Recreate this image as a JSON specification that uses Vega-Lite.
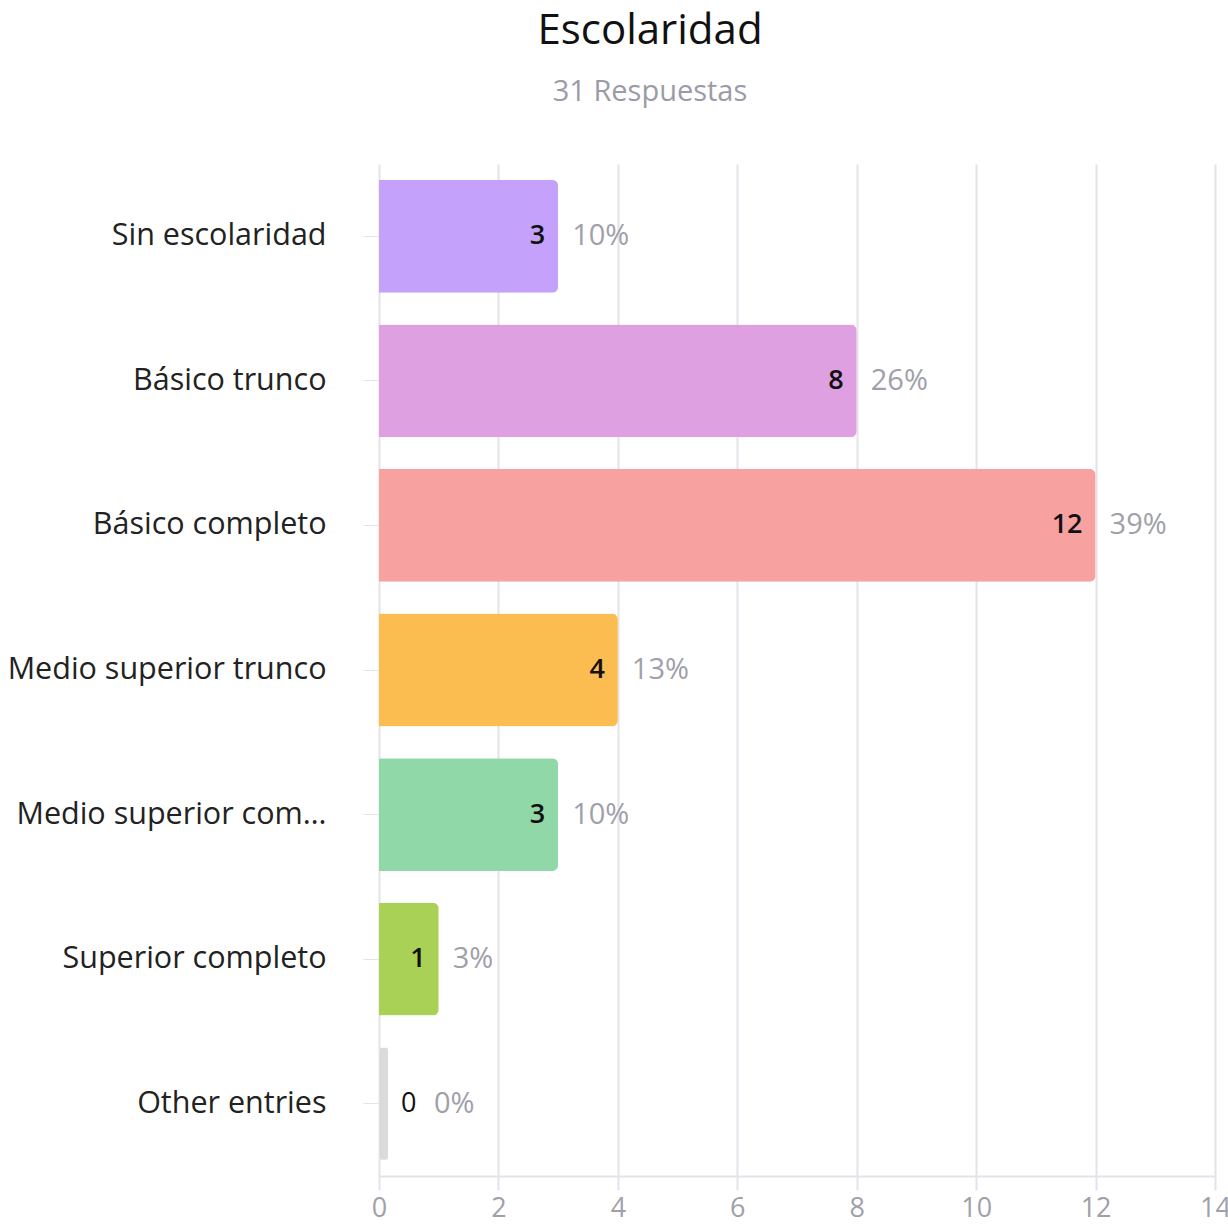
{
  "$schema": "https://vega.github.io/schema/vega-lite/v6.json",
  "width": 836,
  "height": 1012,
  "autosize": "none",
  "padding": {"left": 379, "top": 164, "right": 13, "bottom": 48},
  "background": "white",
  "title": {
    "text": "Escolaridad",
    "subtitle": "31 Respuestas",
    "anchor": "middle",
    "frame": "group",
    "dx": -147,
    "offset": 56,
    "font": "Open Sans",
    "fontSize": 42,
    "fontWeight": "normal",
    "color": "#111111",
    "subtitleFont": "Open Sans",
    "subtitleFontSize": 29,
    "subtitleColor": "#9b9ba8",
    "subtitlePadding": 25
  },
  "config": {
    "view": {"stroke": null},
    "font": "Open Sans"
  },
  "data": {
    "values": [
      {"categoria": "Sin escolaridad", "n": 3, "pct": "10%"},
      {"categoria": "Básico trunco", "n": 8, "pct": "26%"},
      {"categoria": "Básico completo", "n": 12, "pct": "39%"},
      {"categoria": "Medio superior trunco", "n": 4, "pct": "13%"},
      {"categoria": "Medio superior completo", "n": 3, "pct": "10%"},
      {"categoria": "Superior completo", "n": 1, "pct": "3%"},
      {"categoria": "Other entries", "n": 0, "pct": "0%"}
    ]
  },
  "encoding": {
    "y": {
      "field": "categoria",
      "type": "nominal",
      "sort": null,
      "scale": {"paddingInner": 0.22, "paddingOuter": 0.11},
      "axis": {
        "title": null,
        "domain": false,
        "ticks": true,
        "tickSize": 16,
        "tickColor": "#e3e3ea",
        "labelPadding": 37,
        "labelFont": "Open Sans",
        "labelFontSize": 30.5,
        "labelColor": "#222222",
        "labelLimit": 322
      }
    },
    "x": {
      "field": "n",
      "type": "quantitative",
      "scale": {"domain": [0, 14], "nice": false},
      "axis": {
        "title": null,
        "values": [0, 2, 4, 6, 8, 10, 12, 14],
        "grid": true,
        "gridColor": "#e3e3ea",
        "gridWidth": 2,
        "domainColor": "#e3e3ea",
        "domainWidth": 2,
        "tickColor": "#e3e3ea",
        "tickWidth": 2,
        "tickSize": 14,
        "labelFont": "Open Sans",
        "labelFontSize": 27,
        "labelColor": "#a0a0aa",
        "labelPadding": 5,
        "labelFlush": false
      }
    }
  },
  "layer": [
    {
      "mark": {"type": "bar", "cornerRadiusEnd": 6},
      "encoding": {
        "color": {
          "field": "categoria",
          "type": "nominal",
          "legend": null,
          "scale": {
            "domain": ["Sin escolaridad", "Básico trunco", "Básico completo", "Medio superior trunco", "Medio superior completo", "Superior completo", "Other entries"],
            "range": ["#c4a2fc", "#dfa0e2", "#f7a1a1", "#fbbd4f", "#90d8a8", "#a9d155", "#cccccc"]
          }
        }
      }
    },
    {
      "transform": [{"filter": "datum.n == 0"}],
      "mark": {"type": "tick", "thickness": 8, "size": 112, "color": "#cccccc", "xOffset": 5, "cornerRadius": 2},
      "encoding": {}
    },
    {
      "transform": [{"filter": "datum.n > 0"}],
      "mark": {"type": "text", "align": "right", "baseline": "middle", "dx": -13, "fontSize": 27, "fontWeight": 600, "color": "#111111"},
      "encoding": {"text": {"field": "n", "type": "quantitative"}}
    },
    {
      "transform": [{"filter": "datum.n == 0"}],
      "mark": {"type": "text", "align": "left", "baseline": "middle", "dx": 22, "fontSize": 27, "color": "#111111"},
      "encoding": {"text": {"field": "n", "type": "quantitative"}}
    },
    {
      "transform": [{"filter": "datum.n > 0"}],
      "mark": {"type": "text", "align": "left", "baseline": "middle", "dx": 14, "fontSize": 29, "color": "#a0a0aa"},
      "encoding": {"text": {"field": "pct", "type": "nominal"}}
    },
    {
      "transform": [{"filter": "datum.n == 0"}],
      "mark": {"type": "text", "align": "left", "baseline": "middle", "dx": 55, "fontSize": 29, "color": "#a0a0aa"},
      "encoding": {"text": {"field": "pct", "type": "nominal"}}
    }
  ]
}
